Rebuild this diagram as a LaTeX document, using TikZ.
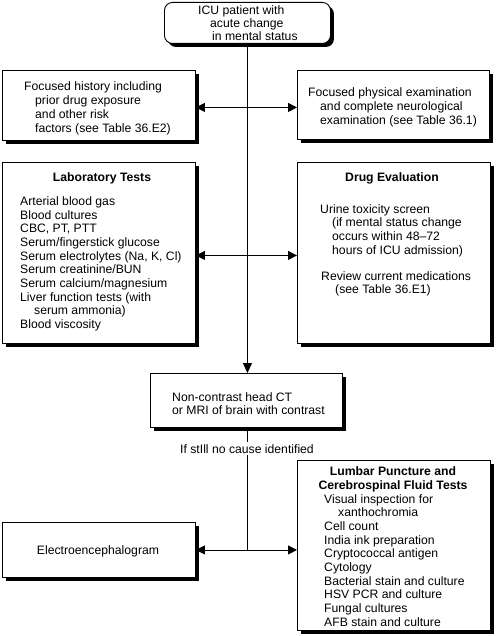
\documentclass[tikz,border=0pt]{standalone}
\usepackage{fontspec}
\setmainfont{Liberation Sans}
\usetikzlibrary{arrows.meta,shadows}
\begin{document}
\begin{tikzpicture}[x=1pt,y=-1pt,
  font=\fontsize{12.2}{13.7}\selectfont,
  box/.style={draw=black, line width=0.9pt, fill=white, inner sep=0pt, anchor=north west,
     drop shadow={shadow xshift=3.5pt, shadow yshift=-3.5pt, fill=black, opacity=1}},
  txt/.style={inner sep=0pt, anchor=base west},
  ttl/.style={inner sep=0pt, anchor=base, font=\fontsize{12.2}{13.7}\selectfont\bfseries},
  conn/.style={line width=0.9pt},
  arr/.style={-{Triangle[length=10pt,width=9pt]}},
  darr/.style={{Triangle[length=9pt,width=9pt]}-{Triangle[length=9pt,width=9pt]}}
]
\useasboundingbox (0,0) rectangle (495,636);

% boxes
\node[box, rounded corners=8pt, minimum width=166pt, minimum height=41pt] (top) at (164,2) {};
\node[box, minimum width=193pt, minimum height=70pt] (hist) at (2,70) {};
\node[box, minimum width=192pt, minimum height=69pt] (phys) at (297,70) {};
\node[box, minimum width=193pt, minimum height=181pt] (lab) at (2,162) {};
\node[box, minimum width=193pt, minimum height=181pt] (drug) at (297,162) {};
\node[box, minimum width=192pt, minimum height=54pt] (ct) at (150,373) {};
\node[box, minimum width=193pt, minimum height=55pt] (eeg) at (2,522) {};
\node[box, minimum width=193pt, minimum height=170pt] (lp) at (297,460) {};

% top box text
\node[txt] (t1) at (198,15) {ICU patient with};
\node[txt] (t2) at (210,28) {acute change};
\node[txt] (t3) at (212,41) {in mental status};

% history
\node[txt] (h1) at (24,91) {Focused history including};
\node[txt] (h2) at (35,104.7) {prior drug exposure};
\node[txt] (h3) at (35,118.4) {and other risk};
\node[txt] (h4) at (35,132.1) {factors (see Table 36.E2)};

% physical
\node[txt] (p1) at (308,97) {Focused physical examination};
\node[txt] (p2) at (320,110.7) {and complete neurological};
\node[txt] (p3) at (320,124.4) {examination (see Table 36.1)};

% laboratory
\node[ttl] (labt) at (102,182) {Laboratory Tests};
\foreach \t [count=\i] in {Arterial blood gas, Blood cultures, {CBC, PT, PTT},
  Serum/fingerstick glucose, {Serum electrolytes (Na, K, Cl)}, Serum creatinine/BUN,
  Serum calcium/magnesium, Liver function tests (with, \hspace*{14pt}serum ammonia),
  Blood viscosity}
  \node[txt] (lab\i) at (20,{205.3+13.7*(\i-1)}) {\t};

% drug evaluation
\node[ttl] (drugt) at (392,182) {Drug Evaluation};
\node[txt] (d1) at (320,213) {Urine toxicity screen};
\node[txt] (d2) at (332,226.7) {(if mental status change};
\node[txt] (d3) at (332,240.4) {occurs within 48–72};
\node[txt] (d4) at (332,254.1) {hours of ICU admission)};
\node[txt] (d5) at (321,280) {Review current medications};
\node[txt] (d6) at (335,293.7) {(see Table 36.E1)};

% CT
\node[txt] (c1) at (172,401) {Non-contrast head CT};
\node[txt] (c2) at (172,414.7) {or MRI of brain with contrast};

% EEG
\node[inner sep=0pt, anchor=base] (eegt) at (98,554) {Electroencephalogram};

% lumbar puncture
\node[ttl] (lpt1) at (393,475) {Lumbar Puncture and};
\node[ttl] (lpt2) at (393,489) {Cerebrospinal Fluid Tests};
\foreach \t [count=\i] in {Visual inspection for, \hspace*{14pt}xanthochromia, Cell count,
  India ink preparation, Cryptococcal antigen, Cytology, Bacterial stain and culture,
  HSV PCR and culture, Fungal cultures, AFB stain and culture}
  \node[txt] (lp\i) at (324,{503+13.7*(\i-1)}) {\t};

% condition label
\node[inner sep=2pt, anchor=base] (cond) at (247,453) {If stIll no cause identified};
\coordinate (j) at (cond.south |- eeg.east);

% connectors
\draw[conn, arr] (top.south) -- (top.south |- ct.north);
\draw[conn, darr] ([yshift=-2pt]hist.east) -- ([yshift=-2pt]hist.east -| phys.west);
\draw[conn, darr] ([yshift=-2.5pt]lab.east) -- ([yshift=-2.5pt]lab.east -| drug.west);
\draw[conn] (cond.north |- ct.south) -- (cond.north);
\draw[conn] (cond.south) -- (j);
\draw[conn, darr] (eeg.east) -- (eeg.east -| lp.west);
\end{tikzpicture}
\end{document}
